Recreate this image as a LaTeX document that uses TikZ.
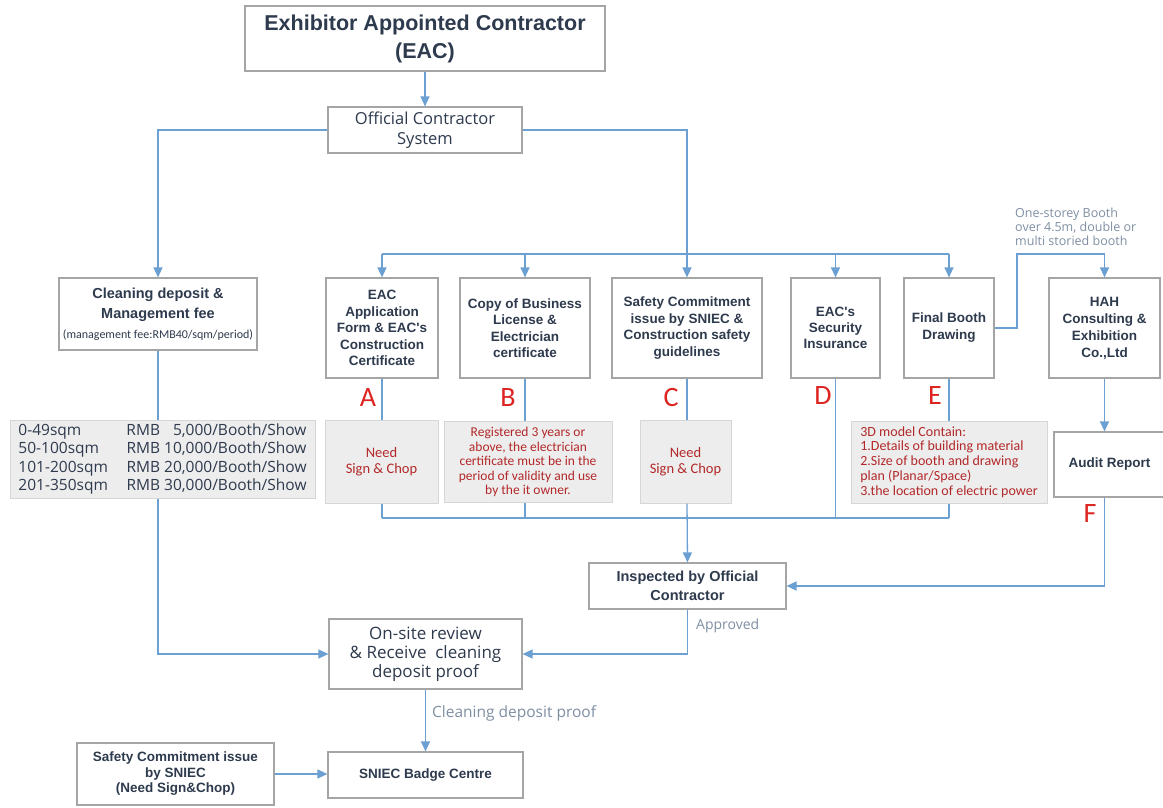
\documentclass[tikz,border=0pt]{standalone}
\usepackage{fontspec}
\setmainfont{Liberation Sans}
\newfontfamily\fArial{Liberation Sans}
\newfontfamily\fSeg{Open Sans}
\newfontfamily\fCal{Carlito}
\usetikzlibrary{arrows.meta,calc}
\definecolor{ln}{HTML}{6C9FD2}
\definecolor{bd}{HTML}{A5A5A5}
\definecolor{tx}{HTML}{2E3A4D}
\definecolor{rd}{HTML}{DD2420}
\definecolor{nt}{HTML}{B3282A}
\definecolor{lb}{HTML}{7F8FA3}
\definecolor{nf}{HTML}{EDEDED}
\definecolor{nb}{HTML}{D6D6D6}
\begin{document}
\begin{tikzpicture}[x=1pt,y=-1pt,
  box/.style={draw=bd, line width=1.2pt, fill=white, text=tx, align=center, inner sep=2pt},
  btxt/.style={font=\fArial\bfseries\fontsize{13.5}{16.6}\selectfont},
  note/.style={draw=nb, fill=nf, line width=1pt, align=center, text=nt, inner sep=2pt,
     font=\fCal\fontsize{13.5}{14.6}\selectfont},
  con/.style={draw=ln, line width=1.3pt},
  arr/.style={con, -{Triangle[length=10pt,width=9pt]}},
  letter/.style={text=rd, font=\fCal\fontsize{28}{30}\selectfont, inner sep=0pt},
  lbl/.style={text=lb, inner sep=0pt}
]
\fill[white] (0,0) rectangle (1163,807);
\useasboundingbox (0,0) rectangle (1163,807);

% main boxes
\node[box, minimum width=360pt, minimum height=65pt, font=\fArial\bfseries\fontsize{21.5}{28}\selectfont] (eac) at (425,38.5) {Exhibitor Appointed Contractor\\(EAC)};
\node[box, minimum width=194pt, minimum height=46pt, font=\fSeg\fontsize{16.5}{20}\selectfont] (ocs) at (425,130) {Official Contractor\\System};
\node[box, minimum width=198pt, minimum height=72pt, font=\fArial\bfseries\fontsize{14.5}{20}\selectfont] (clean) at (158,314) {Cleaning deposit \&\\Management fee\\{\fCal\mdseries\fontsize{12}{20}\selectfont (management fee:RMB40/sqm/period)}};
\node[box, btxt, minimum width=112pt, minimum height=100pt] (A) at (382,328) {EAC\\Application\\Form \& EAC's\\Construction\\Certificate};
\node[box, minimum width=130pt, minimum height=100pt, font=\fArial\bfseries\fontsize{13.5}{16.5}\selectfont] (B) at (525,328) {Copy of Business\\License \&\\Electrician\\certificate};
\node[box, minimum width=150pt, minimum height=100pt, font=\fArial\bfseries\fontsize{13.5}{16.5}\selectfont] (C) at (687,328) {Safety Commitment\\issue by SNIEC \&\\Construction safety\\guidelines};
\node[box, minimum width=89pt, minimum height=100pt, font=\fArial\bfseries\fontsize{13.5}{16}\selectfont] (D) at (835.5,328) {EAC's\\Security\\Insurance};
\node[box, minimum width=90pt, minimum height=100pt, font=\fArial\bfseries\fontsize{13.5}{17}\selectfont] (E) at (949,328) {Final Booth\\Drawing};
\node[box, minimum width=111pt, minimum height=100pt, font=\fArial\bfseries\fontsize{13.5}{17}\selectfont] (hah) at (1104.5,328) {HAH\\Consulting \&\\Exhibition\\Co.,Ltd};
\node[box, btxt, minimum width=111pt, minimum height=65pt] (audit) at (1109.5,464.5) {Audit Report};

% notes
\node[note, minimum width=305pt, minimum height=75pt, text=tx, font=\fSeg\fontsize{15.5}{18.5}\selectfont] (fee) at (162.5,459.5) {%
\begin{tabular}{@{}p{108pt}@{}l@{\ }r@{}l@{}}
0-49sqm & RMB & 5,000 & /Booth/Show\\
50-100sqm & RMB & 10,000 & /Booth/Show\\
101-200sqm & RMB & 20,000 & /Booth/Show\\
201-350sqm & RMB & 30,000 & /Booth/Show
\end{tabular}};
\node[note, minimum width=113pt, minimum height=83pt, font=\fCal\fontsize{14.5}{16}\selectfont] (nA) at (381.5,461.5) {Need\\Sign \& Chop};
\node[note, minimum width=168pt, minimum height=81pt] (nB) at (528,462) {Registered 3 years or\\above, the electrician\\certificate must be in the\\period of validity and use\\by the it owner.};
\node[note, minimum width=91pt, minimum height=83pt, font=\fCal\fontsize{14.5}{16}\selectfont] (nC) at (685.5,461.5) {Need\\Sign \& Chop};
\node[note, minimum width=196pt, minimum height=82pt, align=left, font=\fCal\fontsize{14}{14.8}\selectfont] (nE) at (949,462) {3D model Contain:\\1.Details of building material\\2.Size of booth and drawing\\plan (Planar/Space)\\3.the location of electric power};

% lower boxes
\node[box, minimum width=197pt, minimum height=46pt, font=\fArial\bfseries\fontsize{14.5}{19}\selectfont] (insp) at (687.5,586) {Inspected by Official\\Contractor};
\node[box, minimum width=193pt, minimum height=70pt, font=\fSeg\fontsize{17}{19}\selectfont] (onsite) at (425.5,654) {On-site review\\\& Receive\ \ cleaning\\deposit proof};
\node[box, minimum width=197pt, minimum height=62pt, font=\fArial\bfseries\fontsize{13.5}{15.5}\selectfont] (safety) at (175.5,774) {Safety Commitment issue\\by SNIEC\\(Need Sign\&Chop)};
\node[box, btxt, minimum width=195pt, minimum height=46pt] (sniec) at (425.5,775) {SNIEC Badge Centre};

% letters
\node[letter] (lA) at (368,398) {A};
\node[letter] (lB) at (508,398) {B};
\node[letter] (lC) at (671,398) {C};
\node[letter] (lD) at (823,396) {D};
\node[letter] (lE) at (935,396) {E};
\node[letter] (lF) at (1090,514) {F};

% labels
\node[lbl, anchor=west, font=\fSeg\fontsize{14}{16}\selectfont] (appr) at (696,626) {Approved};
\node[lbl, anchor=west, font=\fSeg\fontsize{15.5}{18}\selectfont] (cdp) at (432,713) {Cleaning deposit proof};
\node[lbl, anchor=west, align=left, font=\fSeg\fontsize{12.5}{14}\selectfont] (osb) at (1015,227) {One-storey Booth\\over 4.5m, double or\\multi storied booth};

% coordinates
\coordinate (br) at (687,254);
\coordinate (bl) at (687,518);
\coordinate (ej) at (1017,254);

% connectors
\draw[arr] (eac.south) -- (ocs.north);
\draw[arr] (ocs.west) -| (clean.north);
\draw[arr] (ocs.east) -| (C.north);
\draw[con] (A.north |- br) -- (E.north |- br);
\draw[arr] (A.north |- br) -- (A.north);
\draw[arr] (B.north |- br) -- (B.north);
\draw[arr] (D.north |- br) -- (D.north);
\draw[arr] (E.north |- br) -- (E.north);
\draw[arr] (E.east) -| (ej) -| (hah.north);
\draw[arr] (hah.south) -- (hah.south |- audit.north);

\draw[con] (A.south) -- (A.south |- nA.north);
\draw[con] (A.south |- nA.south) -- (A.south |- bl);
\draw[con] (B.south) -- (B.south |- nB.north);
\draw[con] (B.south |- nB.south) -- (B.south |- bl);
\draw[con] (C.south) -- (C.south |- nC.north);
\draw[arr] (C.south |- nC.south) -- (insp.north);
\draw[con] (D.south) -- (D.south |- bl);
\draw[con] (E.south) -- (E.south |- nE.north);
\draw[con] (E.south |- nE.south) -- (E.south |- bl);
\draw[con] (A.south |- bl) -- (E.south |- bl);

\draw[arr] (hah.south |- audit.south) |- (insp.east);
\draw[arr] (insp.south) |- (onsite.east);
\draw[con] (clean.south) -- (clean.south |- fee.north);
\draw[arr] (clean.south |- fee.south) |- (onsite.west);
\draw[arr] (onsite.south) -- (sniec.north);
\draw[arr] (safety.east) -- (safety.east -| sniec.west);
\end{tikzpicture}
\end{document}
